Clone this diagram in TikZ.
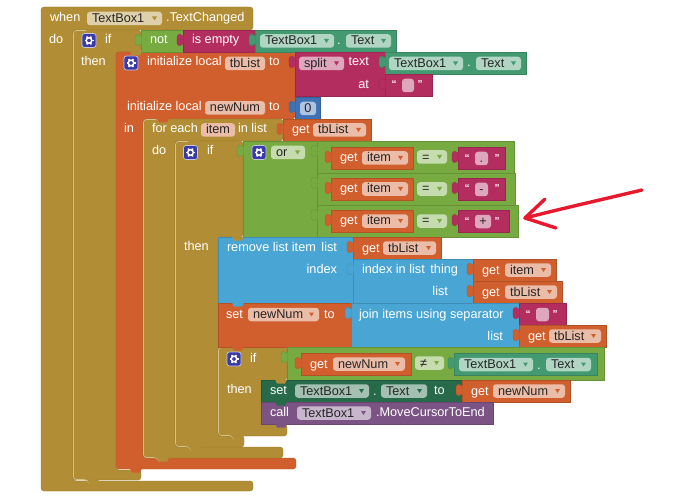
\documentclass[tikz,border=0pt]{standalone}
\usepackage{fontspec}
\setmainfont{Liberation Sans}
\usetikzlibrary{positioning}
\definecolor{ctrlbrown}{HTML}{B18E35}
\definecolor{procorange}{HTML}{D05F2D}
\definecolor{textmagenta}{HTML}{B32D5E}
\definecolor{logicgreen}{HTML}{77AB41}
\definecolor{mathblue}{HTML}{3F71B5}
\definecolor{listblue}{HTML}{49A6D4}
\definecolor{compgreen}{HTML}{439A70}
\definecolor{setgreen}{HTML}{266A4A}
\definecolor{callpurple}{HTML}{7C5385}
\definecolor{gearblue}{HTML}{3B3BA8}
\definecolor{penred}{HTML}{E8192C}
\tikzset{
  shell/.style={rounded corners=3pt, draw=#1!85!black, line width=0.4pt, fill=#1},
  blk/.style={rectangle, draw=#1!85!black, line width=0.4pt, fill=#1, inner sep=0pt, outer sep=0pt, anchor=north west},
  lbl/.style={text=white, inner sep=0pt, outer sep=0pt, font=\fontsize{12.7}{14}\selectfont, text height=10pt, text depth=2pt},
  pill/.style={rectangle, rounded corners=3pt, fill=#1!42!white, inner sep=0pt, outer sep=0pt, minimum height=13.5pt, anchor=west},
  pilltext/.style={lbl, text=black!85},
  geartile/.style={rectangle, rounded corners=2.5pt, draw=white!70!gearblue, fill=gearblue, line width=0.7pt, minimum size=14pt, inner sep=0pt},
  pale/.style={white!45!ctrlbrown, line width=0.6pt, rounded corners=3pt},
  pen/.style={penred, line width=3.4pt, line cap=round, line join=round},
}
% field with a dropdown mark
\newcommand{\field}[6]{
  \node[pill=#6, minimum width={#3pt-#2pt}] (#1) at (#2,#4) {};
  \node[pilltext, anchor=west] (#1txt) at ([xshift=5pt]#1.west) {#5};
  \fill[#6] ({#3-10},{#4-2}) -- ({#3-5},{#4-2}) -- ({#3-7.5},{#4+2}) -- cycle;
}
% field without the mark
\newcommand{\namefield}[6]{
  \node[pill=#6, minimum width={#3pt-#2pt}] (#1) at (#2,#4) {};
  \node[pilltext] (#1txt) at (#1.center) {#5};
}
% plain rectangular block
\newcommand{\plainblock}[6]{
  \node[blk=#6, minimum width={#4pt-#2pt}, minimum height={#5pt-#3pt}] (#1) at (#2,#3) {};
}
% block with a plug on its left side
\newcommand{\plugblock}[6]{
  \plainblock{#1}{#2}{#3}{#4}{#5}{#6}
  \fill[#6] (#2+0.5,#3+5.5) -- (#2-2,#3+5.5) -- (#2-2,#3+4.5) -- (#2-4.5,#3+4.5) -- (#2-6,#3+7) -- (#2-6,#3+13) -- (#2-4.5,#3+15.5) -- (#2-2,#3+15.5) -- (#2-2,#3+14.5) -- (#2+0.5,#3+14.5) -- cycle;
  \draw[#6!85!black, line width=0.4pt] (#2,#3+5.5) -- (#2-2,#3+5.5) -- (#2-2,#3+4.5) -- (#2-4.5,#3+4.5) -- (#2-6,#3+7) -- (#2-6,#3+13) -- (#2-4.5,#3+15.5) -- (#2-2,#3+15.5) -- (#2-2,#3+14.5) -- (#2,#3+14.5);
}
% lobe under a statement
\newcommand{\lobe}[3]{
  \fill[#3] (#1+14,#2-0.5) -- (#1+16,#2+3.5) -- (#1+24,#2+3.5) -- (#1+26,#2-0.5) -- cycle;
}
% pale edge down the left of a clamp
\newcommand{\glow}[3]{
  \draw[pale] (#1+13,#2+0.5) -- (#1+0.5,#2+0.5) -- (#1+0.5,#3-0.5) -- (#1+14,#3-0.5) -- (#1+16,#3+3.5);
}
\newcommand{\gear}[3]{
  \node[geartile] (#1) at (#2,#3) {};
  \foreach \ang in {0,60,...,300}
    \draw[white, line width=1.6pt] (#1.center) ++(\ang:2.8pt) -- ++(\ang:1.7pt);
  \draw[white, line width=1.5pt] (#1.center) circle (2.8pt);
}
% text block with its two quote marks
\newcommand{\strblock}[8]{
  \plugblock{#1}{#2}{#3}{#4}{#3+22}{textmagenta}
  \node[lbl, font=\fontsize{10}{12}\selectfont\bfseries] (#1open) at (#2+9,#3+10) {“};
  \namefield{#1val}{#5}{#6}{#3+11.5}{#8}{textmagenta}
  \node[lbl, font=\fontsize{10}{12}\selectfont\bfseries] (#1close) at (#7,#3+10) {”};
}
% get block
\newcommand{\getblock}[7]{
  \plugblock{#1}{#2}{#3}{#4}{#3+22}{procorange}
  \node[lbl, anchor=west] (#1txt) at (#2+9,#3+11) {get};
  \field{#1var}{#5}{#6}{#3+11}{#7}{procorange}
}
\begin{document}
\begin{tikzpicture}[x=1pt, y=-1pt]
  \useasboundingbox (0,0) rectangle (675,500);

  % clamps, outer to inner
  \draw[shell=ctrlbrown] (41,7) -- (253,7) -- (253,30) -- (73,30) -- (73,481) -- (253,481) -- (253,491) -- (41,491) -- cycle;
  \draw[shell=ctrlbrown] (73,30) -- (141,30) -- (141,52) -- (116,52) -- (116,470) -- (141,470) -- (141,480) -- (73,480) -- cycle;
  \glow{73}{30}{480}
  \lobe{73}{480}{ctrlbrown}
  \draw[shell=procorange] (116,52) -- (295,52) -- (295,119) -- (143,119) -- (143,458) -- (296,458) -- (296,469) -- (116,469) -- cycle;
  \lobe{116}{469}{procorange}
  \draw[shell=ctrlbrown] (143,119) -- (283,119) -- (283,141) -- (175,141) -- (175,447) -- (283,447) -- (283,458) -- (143,458) -- cycle;
  \glow{143}{119}{458}
  \lobe{143}{458}{ctrlbrown}
  \draw[shell=ctrlbrown] (175,141) -- (243,141) -- (243,237) -- (218,237) -- (218,436) -- (244,436) -- (244,447) -- (175,447) -- cycle;
  \glow{175}{141}{447}
  \lobe{175}{447}{ctrlbrown}
  \draw[shell=ctrlbrown] (218,347) -- (287,347) -- (287,380) -- (261,380) -- (261,424) -- (287,424) -- (287,436) -- (218,436) -- cycle;
  \glow{218}{347}{436}
  \lobe{218}{436}{ctrlbrown}

  % event header
  \node[lbl, anchor=west] (when) at (50,18) {when};
  \field{boxa}{87}{162}{18.5}{TextBox1}{ctrlbrown}
  \node[lbl, anchor=west] (changed) at (166,18) {.TextChanged};
  \node[lbl, anchor=west] (dolabel) at (49,40) {do};

  % first test
  \gear{gearif}{89}{40.5}
  \node[lbl, anchor=west] (ifone) at (105,40) {if};
  \node[lbl, anchor=west] (thenone) at (81,62) {then};
  \plugblock{notblk}{141}{30}{183}{52}{logicgreen}
  \node[lbl, anchor=west] (nottxt) at (150,40) {not};
  \plugblock{emptyblk}{183}{30}{255}{52}{textmagenta}
  \node[lbl, anchor=west] (emptytxt) at (192,40) {is empty};
  \plugblock{boxblk}{255}{30}{396}{52}{compgreen}
  \field{boxb}{260}{334}{41}{TextBox1}{compgreen}
  \node[lbl] (dotb) at (339,41) {.};
  \field{propb}{346}{391}{41}{Text}{compgreen}

  % local variables
  \gear{gearinit}{131}{63}
  \node[lbl, anchor=west] (inita) at (147,62) {initialize local};
  \namefield{tblist}{225}{265}{63.5}{tbList}{procorange}
  \node[lbl, anchor=west] (toa) at (269,62) {to};
  \plugblock{splitblk}{295}{52}{385}{96}{textmagenta}
  \field{splitpill}{299}{344}{63.5}{split}{textmagenta}
  \node[lbl, anchor=east] (texta) at (369,62) {text};
  \node[lbl, anchor=east] (ata) at (369,85) {at};
  \plugblock{boxc}{385}{52}{526}{74}{compgreen}
  \field{boxcname}{389}{463}{63.5}{TextBox1}{compgreen}
  \node[lbl] (dotc) at (469,63) {.};
  \field{propc}{476}{521}{63.5}{Text}{compgreen}
  \strblock{sepa}{385}{74}{432}{402}{414}{420}{}
  \node[lbl, anchor=west] (initb) at (127,107) {initialize local};
  \namefield{newnum}{205}{265}{108}{newNum}{procorange}
  \node[lbl, anchor=west] (tob) at (269,107) {to};
  \plugblock{zeroblk}{295}{97}{320}{119}{mathblue}
  \namefield{zero}{300}{316}{108.5}{0}{mathblue}
  \node[lbl, anchor=west] (inlabel) at (124,129) {in};

  % loop header
  \node[lbl, anchor=west] (foreach) at (152,129) {for each};
  \namefield{item}{201}{235}{130}{item}{procorange}
  \node[lbl, anchor=west] (inlist) at (238,129) {in list};
  \getblock{getlist}{283}{119}{371}{313}{366}{tbList}
  \node[lbl, anchor=west] (doloop) at (152,151) {do};

  % second test with its three comparisons
  \gear{geartwo}{190.5}{152.5}
  \node[lbl, anchor=west] (iftwo) at (207,151) {if};
  \node[lbl, anchor=west] (thentwo) at (184,246) {then};
  \plugblock{orblk}{243}{141}{317}{237}{logicgreen}
  \gear{gearor}{259}{152.5}
  \field{orpill}{271}{305}{152.5}{or}{logicgreen}
  \plugblock{cmpa}{317}{141}{514}{173}{logicgreen}
  \plugblock{cmpb}{317}{173}{515}{205}{logicgreen}
  \plugblock{cmpc}{317}{205}{518}{237}{logicgreen}
  \getblock{geta}{331}{147}{413}{362}{408}{item}
  \field{eqa}{417}{447}{157}{=}{logicgreen}
  \strblock{stra}{458}{147}{505}{475}{488}{497}{.}
  \getblock{getb}{331}{178}{413}{362}{408}{item}
  \field{eqb}{417}{447}{189}{=}{logicgreen}
  \strblock{strb}{458}{178}{505}{475}{488}{497}{-}
  \getblock{getc}{331}{210}{413}{362}{408}{item}
  \field{eqc}{417}{447}{221}{=}{logicgreen}
  \strblock{strc}{458}{210}{509}{475}{491}{497}{+}

  % list removal
  \plainblock{removeblk}{218}{237}{353}{303}{listblue}
  \node[lbl, anchor=west] (removetxt) at (227,247) {remove list item};
  \node[lbl, anchor=east] (listb) at (337,247) {list};
  \node[lbl, anchor=east] (indexb) at (337,269) {index};
  \getblock{getd}{353}{237}{441}{383}{436}{tbList}
  \plugblock{indexblk}{353}{259}{473}{303}{listblue}
  \node[lbl, anchor=west] (indextxt) at (362,269) {index in list};
  \node[lbl, anchor=east] (thingtxt) at (458,269) {thing};
  \node[lbl, anchor=east] (listc) at (448,291) {list};
  \getblock{gete}{473}{259}{556}{505}{551}{item}
  \getblock{getf}{473}{281}{562}{505}{557}{tbList}

  % rebuilt number
  \plainblock{setnum}{218}{303}{351}{347}{procorange}
  \node[lbl, anchor=west] (settxt) at (226,314) {set};
  \field{setvar}{248}{319}{314.5}{newNum}{procorange}
  \node[lbl, anchor=west] (toc) at (324,314) {to};
  \plugblock{joinblk}{351}{303}{519}{347}{listblue}
  \node[lbl, anchor=west] (jointxt) at (359,314) {join items using separator};
  \node[lbl, anchor=east] (listd) at (503,336) {list};
  \strblock{sepb}{519}{303}{566}{536}{549}{555}{}
  \getblock{getg}{519}{325}{606}{549}{601}{tbList}

  % third test
  \plugblock{cmpd}{287}{347}{604}{380}{logicgreen}
  \gear{gearthree}{234}{359}
  \node[lbl, anchor=west] (ifthree) at (250,358) {if};
  \node[lbl, anchor=west] (thenthree) at (227,389) {then};
  \getblock{geth}{301}{353}{411}{333}{405}{newNum}
  \field{neq}{415}{444}{363}{≠}{logicgreen}
  \plugblock{boxd}{454}{353}{597}{375}{compgreen}
  \field{boxdname}{459}{533}{364.5}{TextBox1}{compgreen}
  \node[lbl] (dotd) at (539,365) {.};
  \field{propd}{546}{591}{364.5}{Text}{compgreen}

  % write back, then move the cursor
  \plainblock{setbox}{261}{380}{462}{402}{setgreen}
  \node[lbl, anchor=west] (setb) at (270,390) {set};
  \field{boxe}{295}{369}{391}{TextBox1}{setgreen}
  \node[lbl] (dote) at (375,391) {.};
  \field{prope}{381}{427}{391}{Text}{setgreen}
  \node[lbl, anchor=west] (tod) at (434,390) {to};
  \getblock{geti}{462}{380}{570}{493}{565}{newNum}
  \plainblock{callblk}{261}{402}{493}{424}{callpurple}
  \node[lbl, anchor=west] (calltxt) at (270,412) {call};
  \field{boxf}{297}{371}{413}{TextBox1}{callpurple}
  \node[lbl, anchor=west] (movetxt) at (376,412) {.MoveCursorToEnd};

  % lobes of the stacked statements
  \lobe{116}{52}{ctrlbrown}
  \lobe{143}{119}{procorange}
  \lobe{175}{141}{ctrlbrown}
  \lobe{218}{237}{ctrlbrown}
  \lobe{218}{303}{listblue}
  \lobe{218}{347}{procorange}
  \lobe{261}{380}{ctrlbrown}
  \lobe{261}{402}{setgreen}
  \lobe{261}{424}{callpurple}

  % hand drawn arrow
  \coordinate (tail) at (642,190);
  \coordinate (tip) at (525,218);
  \coordinate (barbup) at (545,199);
  \coordinate (barbdown) at (556,228);
  \draw[pen] (tail) .. controls (600,200) and (560,209) .. (tip);
  \draw[pen] (barbup) -- (tip) -- (barbdown);
\end{tikzpicture}
\end{document}
